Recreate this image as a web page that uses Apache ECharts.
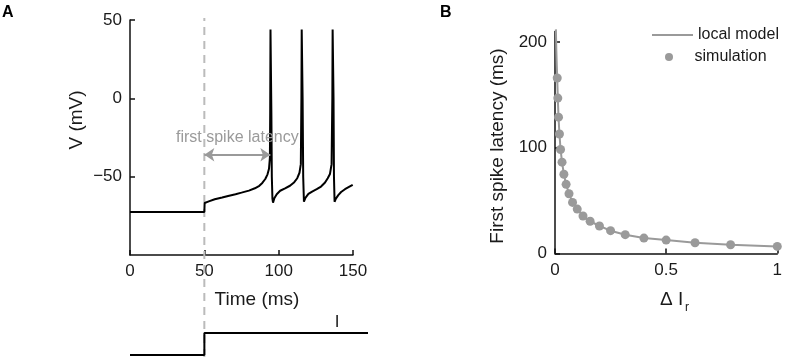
<!DOCTYPE html>
<html>
<head>
<meta charset="utf-8">
<script src="https://cdn.jsdelivr.net/npm/echarts@6/dist/echarts.min.js"></script>
<style>
  html, body { margin: 0; padding: 0; background: #fff; }
  #chart { width: 785px; height: 357px; }
</style>
</head>
<body>
<div id="chart"></div>
<script>
// panel A: membrane potential (ms, mV)
const vTime = [0, 50, 50.2, 53, 57, 62, 66, 71, 75, 80, 84, 87, 89, 91, 92.5, 93.5, 94.1, 94.3, 94.5, 94.8,
  95.1, 95.4, 95.8, 96.2, 97, 98.7, 101, 104.3, 107.6, 110.5, 112.5, 114, 114.9, 115.3, 115.5, 115.8,
  116.1, 116.5, 117, 118, 120, 122.5, 125.6, 128.5, 131.2, 133, 134.5, 135.6, 136.1, 136.3, 136.6,
  136.9, 137.2, 137.6, 138.5, 140.1, 142, 144.6, 147, 149.8];
const vMembrane = [-72.5, -72.5, -66.8, -65.8, -64.4, -63.3, -62.3, -61.2, -60.2, -58.9, -57.4, -55.8, -54, -51.5, -48.5, -45, -38, -10, 44, 44,
  -10, -50, -64, -66.6, -64, -61.2, -59, -57.5, -55.8, -53.5, -51, -47.5, -42, 0, 44, 44,
  0, -50, -66, -63.5, -61, -59.5, -58, -56.3, -53.7, -51, -48.3, -42, 0, 44, 44,
  0, -50, -66, -64, -61.8, -59.8, -58, -56.7, -55.2];

// injected current step
const iTime = [0, 50, 50, 160];
const iLevel = [0, 0, 1, 1];

const stimOnset = 50;
const firstSpike = 94.4;
const latencyLevel = -36;

// panel B: first spike latency vs ΔI_r
const simX = [0.01, 0.0126, 0.0158, 0.02, 0.025, 0.0316, 0.04, 0.05, 0.063, 0.079, 0.1,
  0.126, 0.158, 0.2, 0.25, 0.316, 0.4, 0.5, 0.63, 0.79, 1.0];
const simY = [166, 147, 129, 113, 98.4, 86.4, 75, 65.4, 56.5, 48.3, 42,
  35.5, 30.5, 26, 21.6, 17.8, 14.6, 12.7, 10.2, 8.3, 6.7];
const modelX = [0.004, 0.006, 0.008, 0.01, 0.0126, 0.0158, 0.02, 0.025, 0.0316, 0.04, 0.05, 0.063, 0.079, 0.1,
  0.126, 0.158, 0.2, 0.25, 0.316, 0.4, 0.5, 0.63, 0.79, 1.0];
const modelY = [212, 192, 178, 166, 147, 129, 113, 98.4, 86.4, 75, 65.4, 56.5, 48.3, 42,
  35.5, 30.5, 26, 21.6, 17.8, 14.6, 12.7, 10.2, 8.3, 6.7];

const ticksAX = [0, 50, 100, 150];
const ticksAY = [-50, 0, 50];
const ticksBX = [0, 0.5, 1];
const ticksBY = [0, 100, 200];

const zip = (a, b) => a.map((v, i) => [v, b[i]]);
const FONT = '"Liberation Sans", Arial, sans-serif';
const GRAY = '#9a9a9a';
const INK = '#1a1a1a';

function axisStyle(ticks, extra) {
  return Object.assign({
    type: 'value',
    splitLine: { show: false },
    axisLine: { show: true, onZero: false, lineStyle: { color: '#111', width: 1.5 } },
    axisTick: { show: true, inside: true, length: 5, customValues: ticks, lineStyle: { color: '#111', width: 1.5 } },
    axisLabel: { customValues: ticks, fontFamily: FONT, fontSize: 17, color: INK, margin: 8,
      formatter: v => String(v).replace('-', '\u2212') }
  }, extra);
}
const hidden = (min, max) => ({ type: 'value', min, max, show: false });
const legendText = { fontFamily: FONT, fontSize: 16, color: INK };

const chart = echarts.init(document.getElementById('chart'));
chart.setOption({
  animation: false,
  grid: [
    { left: 130, top: 20, width: 223, height: 235 },
    { left: 130, top: 333, width: 238, height: 22 },
    { left: 130, top: 18, width: 223, height: 339 },
    { left: 555, top: 31.5, width: 224, height: 222 }
  ],
  xAxis: [
    axisStyle(ticksAX, { gridIndex: 0, min: 0, max: 150 }),
    Object.assign(hidden(0, 160), { gridIndex: 1 }),
    Object.assign(hidden(0, 150), { gridIndex: 2 }),
    axisStyle(ticksBX, { gridIndex: 3, min: 0, max: 1 })
  ],
  yAxis: [
    axisStyle(ticksAY, { gridIndex: 0, min: -100, max: 50 }),
    Object.assign(hidden(0, 1), { gridIndex: 1 }),
    Object.assign(hidden(0, 1), { gridIndex: 2 }),
    axisStyle(ticksBY, { gridIndex: 3, min: 0, max: 210 })
  ],
  legend: [
    {
      left: 647, top: 22, itemWidth: 41, itemHeight: 2,
      textStyle: legendText,
      data: [{ name: 'local model', icon: 'rect' }]
    },
    {
      left: 660, top: 44, itemWidth: 41, itemHeight: 8,
      textStyle: legendText,
      data: [{ name: 'simulation', icon: 'circle' }]
    }
  ],
  series: [
    {
      type: 'line', xAxisIndex: 2, yAxisIndex: 2, symbol: 'none', silent: true,
      data: [[stimOnset, 0], [stimOnset, 1]],
      lineStyle: { color: '#bbb', width: 2, type: [8, 6] }, z: 1
    },
    {
      type: 'line', xAxisIndex: 0, yAxisIndex: 0, symbol: 'none',
      data: zip(vTime, vMembrane),
      lineStyle: { color: '#000', width: 2 }, z: 3,
      markLine: {
        silent: true, symbol: ['arrow', 'arrow'], symbolSize: [10, 10],
        lineStyle: { color: GRAY, width: 2, type: 'solid' },
        label: { show: true, position: 'middle', distance: 9, formatter: 'first spike latency',
          fontFamily: FONT, fontSize: 16, color: GRAY },
        data: [[{ coord: [stimOnset, latencyLevel] }, { coord: [firstSpike, latencyLevel] }]]
      }
    },
    {
      type: 'line', xAxisIndex: 1, yAxisIndex: 1, symbol: 'none',
      data: zip(iTime, iLevel),
      lineStyle: { color: '#000', width: 2 }, z: 3
    },
    {
      name: 'local model', type: 'line', xAxisIndex: 3, yAxisIndex: 3, symbol: 'none',
      data: zip(modelX, modelY), clip: false,
      lineStyle: { color: GRAY, width: 2 }, itemStyle: { color: GRAY }, z: 3
    },
    {
      name: 'simulation', type: 'scatter', xAxisIndex: 3, yAxisIndex: 3, symbolSize: 9,
      data: zip(simX, simY), clip: false,
      itemStyle: { color: GRAY, opacity: 1 }, z: 4
    }
  ],
  graphic: [
    { type: 'text', x: 2, y: 13, style: { text: 'A', font: 'bold 16px ' + FONT, fill: '#000', verticalAlign: 'middle' } },
    { type: 'text', x: 440, y: 13, style: { text: 'B', font: 'bold 16px ' + FONT, fill: '#000', verticalAlign: 'middle' } },
    { type: 'text', x: 77, y: 120, rotation: Math.PI / 2,
      style: { text: 'V (mV)', font: '19px ' + FONT, fill: INK, align: 'center', verticalAlign: 'middle' } },
    { type: 'text', x: 257, y: 300,
      style: { text: 'Time (ms)', font: '19px ' + FONT, fill: INK, align: 'center', verticalAlign: 'middle' } },
    { type: 'text', x: 337, y: 322,
      style: { text: 'I', font: '17px ' + FONT, fill: INK, align: 'center', verticalAlign: 'middle' } },
    { type: 'text', x: 498, y: 146, rotation: Math.PI / 2,
      style: { text: 'First spike latency (ms)', font: '19px ' + FONT, fill: INK, align: 'center', verticalAlign: 'middle' } },
    { type: 'text', x: 660, y: 300,
      style: { text: '\u0394 I', font: '19px ' + FONT, fill: INK, align: 'left', verticalAlign: 'middle' } },
    { type: 'text', x: 685, y: 308,
      style: { text: 'r', font: '12px ' + FONT, fill: INK, align: 'left', verticalAlign: 'middle' } }
  ]
});
</script>
</body>
</html>
